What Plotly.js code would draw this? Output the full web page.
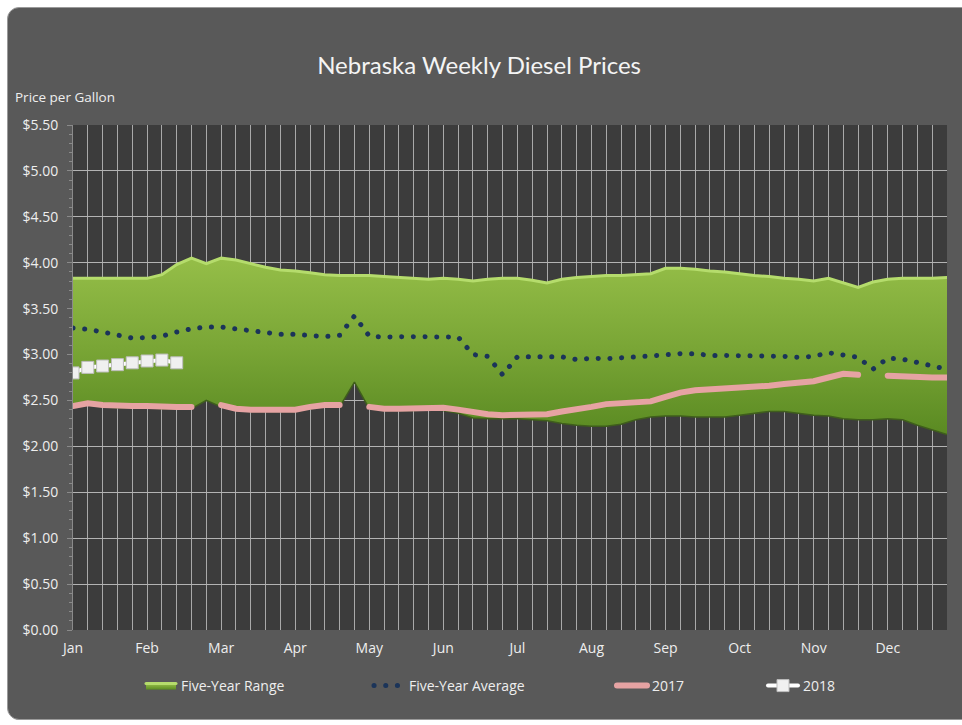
<!DOCTYPE html>
<html>
<head>
<meta charset="utf-8">
<script src="https://cdn.plot.ly/plotly-3.0.1.min.js"></script>
<style>
  html, body { margin:0; padding:0; background:#ffffff; }
  #frame { position:absolute; left:7px; top:7px; width:975px; height:711px; background:#595959; border:1px solid #9a9a9a; border-radius:12px; }
  #chart { position:absolute; left:0; top:0; width:962px; height:725px; }
  .js-line { stroke-linecap: round !important; }
</style>
</head>
<body>
<div id="frame"></div>
<div id="chart"></div>
<script>
// week slots (60 slots, 5 per month)
const weeks = Array.from({length: 60}, (_, i) => i);
const monthTickPos = [0,5,10,15,20,25,30,35,40,45,50,55];
const monthLabels = ['Jan','Feb','Mar','Apr','May','Jun','Jul','Aug','Sep','Oct','Nov','Dec'];

const rangeHigh = [3.83,3.83,3.83,3.83,3.83,3.83,3.87,3.98,4.05,3.99,
                   4.05,4.03,3.99,3.95,3.92,3.91,3.89,3.87,3.86,3.86,
                   3.86,3.85,3.84,3.83,3.82,3.83,3.82,3.80,3.82,3.83,
                   3.83,3.81,3.78,3.82,3.84,3.85,3.86,3.86,3.87,3.88,
                   3.94,3.94,3.93,3.91,3.90,3.88,3.86,3.85,3.83,3.82,
                   3.80,3.83,3.78,3.73,3.79,3.82,3.83,3.83,3.83,3.84];
const rangeLow  = [2.42,2.45,2.43,2.42,2.42,2.42,2.41,2.41,2.41,2.50,
                   2.43,2.39,2.38,2.38,2.38,2.38,2.41,2.43,2.43,2.70,
                   2.41,2.39,2.39,2.39,2.40,2.39,2.36,2.31,2.30,2.30,
                   2.30,2.29,2.28,2.25,2.23,2.22,2.22,2.24,2.29,2.32,
                   2.33,2.33,2.32,2.32,2.32,2.34,2.36,2.38,2.38,2.36,
                   2.34,2.33,2.30,2.29,2.29,2.30,2.29,2.23,2.18,2.13];
const fiveYearAvg = [3.29,3.275,3.245,3.215,3.18,3.185,3.20,3.245,3.28,3.30,
                     3.30,3.28,3.26,3.24,3.22,3.22,3.205,3.195,3.21,3.42,
                     3.20,3.19,3.195,3.195,3.185,3.19,3.19,3.00,2.98,2.78,
                     2.975,2.975,2.975,2.975,2.945,2.96,2.955,2.96,2.975,2.985,
                     3.00,3.01,3.01,2.99,2.99,2.99,2.99,2.99,2.98,2.97,
                     2.98,3.02,3.00,2.97,2.84,2.96,2.95,2.91,2.875,2.84];
const y2017 = [2.44,2.47,2.45,2.44,2.44,2.44,2.43,2.43,2.43,null,
               2.45,2.41,2.40,2.40,2.40,2.40,2.43,2.45,2.45,null,
               2.43,2.41,2.41,2.41,2.42,2.42,2.40,2.37,2.35,2.34,
               2.34,2.34,2.35,2.38,2.40,2.43,2.46,2.47,2.48,2.49,
               2.54,2.585,2.61,2.62,2.63,2.64,2.64,2.66,2.68,2.70,
               2.71,2.75,2.79,2.78,null,2.77,2.76,2.75,2.75,2.75];
const y2018 = [2.80,2.86,2.875,2.89,2.91,2.93,2.94,2.91];
const weeks2018 = [0,1,2,3,4,5,6,7];

const FONT = '"Open Sans", Lato, sans-serif';
const TFONT = 'Lato, "Open Sans", sans-serif';
const TXT = '#eeeeee';

const traces = [
  { x: weeks, y: rangeLow, type:'scatter', mode:'lines', showlegend:false, hoverinfo:'skip',
    line:{color:'#3f5e1c', width:1.5} },
  { x: weeks, y: rangeHigh, type:'scatter', mode:'lines', name:'Five-Year Range', fill:'tonexty',
    fillcolor:'#7aa634',
    fillgradient:{type:'vertical', colorscale:[[0,'#5a8a22'],[0.5,'#7aa636'],[1,'#95be48']]},
    line:{color:'#b5dc6c', width:3}, legend:'legend' },
  { x: weeks, y: fiveYearAvg, type:'scatter', mode:'lines', name:'Five-Year Average',
    line:{color:'#1b3459', width:5, dash:'0.1px,11.6px'}, legend:'legend2' },
  { x: weeks, y: y2017, type:'scatter', mode:'lines', name:'2017', connectgaps:false,
    line:{color:'#e6a3a3', width:6}, legend:'legend3' },
  { x: weeks2018, y: y2018, type:'scatter', mode:'lines+markers', name:'2018',
    line:{color:'#ffffff', width:4},
    marker:{symbol:'square', size:12, color:'#f0f0f0', line:{color:'#bdbdbd', width:1}}, legend:'legend4' }
];

function leg(px) {
  return { orientation:'h', xref:'container', yref:'container', x: px/962, y: 1 - 686/725,
           xanchor:'left', yanchor:'middle', bgcolor:'rgba(0,0,0,0)',
           font:{family:FONT, size:14, color:TXT} };
}

const layout = {
  width: 962, height: 725,
  paper_bgcolor:'rgba(0,0,0,0)',
  plot_bgcolor:'#3c3c3c',
  margin:{l:73, r:15, t:125, b:95},
  font:{family:FONT, color:TXT},
  title:{text:'Nebraska Weekly Diesel Prices', font:{family:TFONT, size:24, color:'#f4f4f4'},
         xref:'container', x:0.498, yref:'container', y:1-66/725, yanchor:'middle'},
  xaxis:{ range:[0,59], tickvals:monthTickPos, ticktext:monthLabels,
          showgrid:true, gridcolor:'#a9a9a9', gridwidth:1, zeroline:false,
          ticks:'', showline:false, ticklabelstandoff:8,
          tickfont:{family:FONT, size:14, color:TXT},
          minor:{dtick:1, tick0:0, showgrid:true, gridcolor:'#a9a9a9', gridwidth:1},
          fixedrange:true },
  yaxis:{ range:[0,5.5], dtick:0.5, tick0:0, tickprefix:'$', tickformat:'.2f',
          showgrid:true, gridcolor:'#b3b3b3', gridwidth:1, zeroline:false,
          showline:true, linecolor:'#8a8a8a', linewidth:1,
          ticks:'outside', ticklen:5, tickcolor:'#8a8a8a', ticklabelstandoff:6,
          minor:{dtick:0.1, ticks:'outside', ticklen:3, tickcolor:'#8a8a8a', showgrid:false},
          tickfont:{family:FONT, size:14, color:TXT}, fixedrange:true },
  annotations:[{ text:'Price per Gallon', xref:'paper', yref:'paper', x:(13-73)/874, y:(630-97)/505,
                 xanchor:'left', yanchor:'middle', showarrow:false,
                 font:{family:FONT, size:13.5, color:TXT} }],
  legend: leg(141),
  legend2: leg(369),
  legend3: leg(612),
  legend4: leg(763),
  showlegend:true
};

Plotly.newPlot('chart', traces, layout, {displayModeBar:false, staticPlot:true});
</script>
</body>
</html>
